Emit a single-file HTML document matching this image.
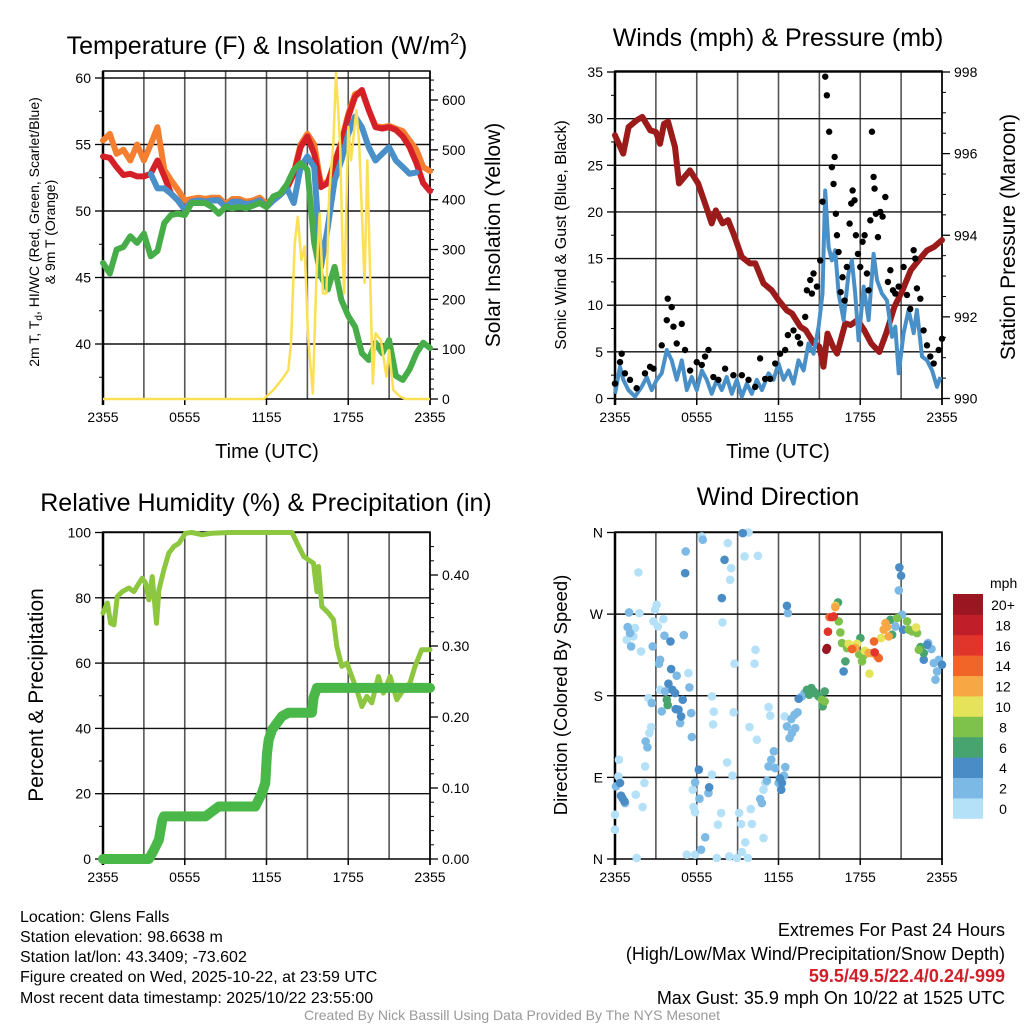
<!DOCTYPE html>
<html><head><meta charset="utf-8">
<style>
html,body{margin:0;padding:0;background:#fff;}
svg{display:block;font-family:"Liberation Sans",Arial,sans-serif;}
</style></head>
<body>
<svg id="chart" width="1024" height="1024" viewBox="0 0 1024 1024" xmlns="http://www.w3.org/2000/svg">
<rect x="0" y="0" width="1024" height="1024" fill="#fff"/>
<text x="267" y="54" font-size="25" text-anchor="middle">Temperature (F) &amp; Insolation (W/m<tspan dy="-10" font-size="16">2</tspan><tspan dy="10">)</tspan></text>
<text x="778" y="46" font-size="25" text-anchor="middle">Winds (mph) &amp; Pressure (mb)</text>
<text x="266" y="511" font-size="25" text-anchor="middle">Relative Humidity (%) &amp; Precipitation (in)</text>
<text x="778" y="505" font-size="25" text-anchor="middle">Wind Direction</text>

<text transform="translate(39,232) rotate(-90)" font-size="14" text-anchor="middle">2m T, T<tspan dy="3" font-size="10">d</tspan><tspan dy="-3">, HI/WC (Red, Green, Scarlet/Blue)</tspan></text>
<text transform="translate(55,232) rotate(-90)" font-size="14" text-anchor="middle">&amp; 9m T (Orange)</text>
<text transform="translate(500,235) rotate(-90)" font-size="21" text-anchor="middle">Solar Insolation (Yellow)</text>
<text transform="translate(566,235) rotate(-90)" font-size="16" text-anchor="middle">Sonic Wind &amp; Gust (Blue, Black)</text>
<text transform="translate(1015,237) rotate(-90)" font-size="21" text-anchor="middle">Station Pressure (Maroon)</text>
<text transform="translate(43,695) rotate(-90)" font-size="21" text-anchor="middle">Percent &amp; Precipitation</text>
<text transform="translate(567,695) rotate(-90)" font-size="18.5" text-anchor="middle">Direction (Colored By Speed)</text>
<text x="267" y="458" font-size="20" text-anchor="middle">Time (UTC)</text>
<text x="778" y="458" font-size="20" text-anchor="middle">Time (UTC)</text>

<g id="layer"></g>

<g font-size="16">
<text x="20" y="922">Location: Glens Falls</text>
<text x="20" y="942">Station elevation: 98.6638 m</text>
<text x="20" y="962">Station lat/lon: 43.3409; -73.602</text>
<text x="20" y="982">Figure created on Wed, 2025-10-22, at 23:59 UTC</text>
<text x="20" y="1003">Most recent data timestamp: 2025/10/22 23:55:00</text>
</g>
<g font-size="18" text-anchor="end">
<text x="1005" y="936">Extremes For Past 24 Hours</text>
<text x="1005" y="960">(High/Low/Max Wind/Precipitation/Snow Depth)</text>
<text x="1005" y="982" fill="#d0202a" font-weight="bold">59.5/49.5/22.4/0.24/-999</text>
<text x="1005" y="1004">Max Gust: 35.9 mph On 10/22 at 1525 UTC</text>
</g>
<text x="512" y="1020" font-size="14" fill="#999" text-anchor="middle">Created By Nick Bassill Using Data Provided By The NYS Mesonet</text>
</svg>
<script>
// ---------- Data ----------
const xTickLabels = ["2355","0555","1155","1755","2355"];
const xTickHours = [0,6,12,18,24];
// Panel 1 (half-hourly, hours 0..24)
const tempRed = [54.1,54.0,53.3,52.7,52.8,52.6,52.6,52.8,53.8,52.6,51.3,50.8,50.1,50.7,50.8,50.7,50.8,50.8,50.3,50.7,50.7,50.5,50.6,50.8,50.3,50.8,51.2,51.7,52.8,54.8,55.6,54.3,51.8,52.1,53.6,55.1,57.1,58.6,59.1,57.6,56.3,56.2,56.3,56.1,55.6,54.8,53.6,52.1,51.5];
const tempOrange = [55.3,55.8,54.3,54.6,53.8,55.0,53.8,55.0,56.3,53.1,52.3,51.6,50.8,50.9,51.0,50.9,51.0,51.0,50.5,50.9,50.9,50.7,50.8,51.0,50.5,51.0,51.3,51.8,52.9,55.0,55.8,55.0,52.0,52.2,53.7,55.2,57.3,58.8,59.0,57.6,56.4,56.3,56.4,56.2,56.0,55.3,54.6,53.3,53.0];
const heatIndexBlue = [null,null,null,null,null,null,null,52.8,51.7,51.7,51.3,50.8,50.1,50.7,50.8,50.7,50.8,50.8,50.3,50.7,50.7,50.5,50.6,50.8,50.3,50.8,51.2,51.7,50.6,53.3,54.1,53.3,45.8,48.8,52.3,53.8,55.8,57.1,56.3,54.8,53.8,54.3,54.8,53.8,53.3,52.8,52.9,null,null];
const dewGreen = [46.1,45.3,47.1,47.3,48.1,47.6,48.3,46.6,47.0,49.1,49.7,49.8,49.7,50.6,50.6,50.6,50.3,49.8,50.3,50.2,50.3,50.2,50.4,50.6,50.3,51.1,51.3,52.0,53.1,53.6,53.1,47.6,45.1,44.1,45.8,43.3,42.1,41.3,39.3,38.8,40.1,39.3,40.3,37.6,37.3,38.1,39.3,40.1,39.7];
const solarHours = [0,11.8,12.5,13.1,13.6,13.8,14.07,14.3,14.56,14.8,15.05,15.4,15.66,15.9,16.15,16.4,16.6,16.9,17.1,17.4,17.6,17.7,18.0,18.2,18.6,18.8,19.2,19.4,19.8,20.0,20.4,20.8,21.0,21.3,21.8,22.2,24];
const solarValues = [0,0,18,38,58,112,312,366,279,306,125,11,245,372,212,212,412,512,654,512,280,212,546,479,580,512,233,479,31,132,118,45,98,18,5,0,0];
// Panel 2
const windHours = [0,.37,.61,.98,1.47,1.96,2.33,2.69,3.06,3.43,3.80,4.16,4.53,4.90,5.27,5.63,6.00,6.37,6.74,7.10,7.47,7.84,8.20,8.57,8.94,9.31,9.67,10.04,10.41,10.78,11.27,11.63,12.00,12.37,12.74,13.10,13.47,13.84,14.20,14.57,14.94,15.23,15.43,15.68,15.92,16.16,16.41,16.78,17.14,17.39,17.63,17.88,18.25,18.61,18.98,19.23,19.59,19.96,20.33,20.57,20.82,21.18,21.55,21.92,22.16,22.53,22.90,23.27,23.63,23.88];
const windSpeeds = [0.5,3.4,2.0,0.9,0.2,1.25,2.3,0.9,2.0,2.7,5.2,4.1,2.0,4.1,0.9,2.3,0.9,3.0,2.0,0.5,2.0,0.9,2.3,0.5,2.0,0.2,1.6,0.5,2.0,0.9,2.7,2.0,3.75,2.0,3.0,1.6,4.1,3.0,5.9,4.8,7.7,11.25,22.3,16.25,14.8,15.9,11.25,8.4,13.4,14.8,11.25,6.25,12.0,8.4,15.5,12.7,11.25,10.5,6.6,7.7,2.7,7.0,9.5,7.0,9.5,4.5,4.1,3.0,1.25,2.3];
const gustHours = [0,0.37,0.49,0.73,1.10,1.59,2.20,2.57,2.82,3.43,3.80,3.87,4.16,4.29,4.53,4.90,5.14,5.51,6.00,6.37,6.61,6.86,7.22,7.59,8.08,8.69,9.31,9.80,10.29,10.65,11.02,11.39,11.76,12.12,12.49,12.69,13.10,13.42,13.59,13.96,14.08,14.33,14.45,14.57,14.82,15.06,15.23,15.43,15.55,15.72,15.92,16.04,16.12,16.21,16.29,16.41,16.56,16.70,16.85,17.02,17.22,17.34,17.44,17.58,17.68,17.83,18.00,18.17,18.32,18.49,18.61,18.74,18.86,18.98,19.05,19.15,19.30,19.47,19.64,19.84,20.03,20.21,20.40,20.57,20.82,21.18,21.43,21.67,21.92,22.04,22.16,22.41,22.65,22.90,23.14,23.39,23.76,24.0];
const gustSpeeds = [1.6,3.9,4.8,2.7,2.0,1.1,2.7,3.4,3.2,5.7,8.4,10.7,9.8,7.7,5.9,8.0,5.2,3.0,3.9,3.6,4.5,5.2,2.3,2.0,3.2,2.5,2.5,2.0,1.25,4.3,2.1,2.1,3.75,4.8,5.2,6.8,7.3,6.6,5.9,8.75,11.6,12.7,11.25,13.4,12.0,14.8,21.1,34.5,32.5,28.6,24.8,23.0,25.9,19.8,17.5,15.7,11.4,13.0,10.5,14.1,18.75,20.9,22.3,21.25,17.5,15.5,14.1,16.8,17.5,13.4,11.6,19.1,28.6,23.75,22.5,19.8,17.3,20.0,19.5,21.6,12.5,13.75,11.6,11.25,12.0,14.1,11.1,9.6,15.9,15.0,11.8,10.7,7.3,5.7,4.5,3.75,5.2,6.4];
const pressureHours = [0,0.6,1,1.6,2,2.6,3,3.3,3.6,3.9,4.4,4.7,5.1,5.5,6.1,6.7,7.1,7.4,7.9,8.3,8.7,9.3,9.9,10.3,10.9,11.5,12,12.6,13,13.6,14,14.6,15,15.3,15.6,16,16.3,16.9,17.3,17.8,18.3,18.8,19.4,19.9,20.5,21.1,21.7,22.3,22.9,23.4,24];
const pressureValues = [996.45,996.0,996.65,996.82,996.9,996.57,996.53,996.24,996.73,996.78,996.16,995.27,995.43,995.59,995.27,994.69,994.29,994.61,994.29,994.37,994.04,993.47,993.31,993.31,992.82,992.65,992.41,992.16,992.08,991.76,991.67,991.35,991.27,990.78,991.59,991.27,991.1,991.84,991.8,991.92,991.67,991.35,991.14,991.59,992.24,992.65,993.14,993.39,993.63,993.71,993.88];
// Panel 3
const rhHours = [0,.32,.56,.81,1.05,1.42,1.90,2.27,2.64,2.88,3.13,3.37,3.61,3.93,4.10,4.47,4.83,5.20,5.57,6.05,6.54,7.28,8.01,9.23,11.67,13.87,14.36,14.72,15.09,15.45,15.70,15.82,16.06,16.55,16.92,17.16,17.53,17.90,18.26,18.63,19.00,19.36,19.73,20.21,20.58,21.07,21.56,22.05,22.53,22.90,23.39,24.0];
const rhValues = [75.3,78.4,72.2,71.7,80.4,81.9,83.0,81.9,84.5,86.0,84.5,79.4,86.5,72.2,82.4,88.6,93.7,95.7,96.7,99.8,100,99.3,99.8,100,100,100,95.7,92.7,91.6,90.6,81.9,89.6,77.3,75.3,73.3,65.1,59.0,60.0,55.9,51.8,46.7,49.8,47.8,55.9,50.8,55.9,48.8,51.8,53.9,59.0,64.1,64.1];
const precipHours = [0,3.37,3.74,4.10,4.35,4.47,7.52,8.50,11.18,11.67,11.91,12.04,12.16,12.40,13.13,13.62,15.33,15.45,15.70,24];
const precipValues = [0,0,0.013,0.027,0.055,0.06,0.06,0.074,0.074,0.093,0.107,0.149,0.168,0.182,0.201,0.206,0.206,0.227,0.241,0.241];
// Panel 4
const dirTimes = [6.37,9.36,9.80,9.51,10.49,8.28,8.53,8.45,1.72,3.06,2.94,1.79,2.82,3.14,3.55,1.47,0.86,1.35,1.91,7.89,10.31,10.24,8.77,5.39,3.31,2.45,2.65,2.52,7.11,7.25,7.20,8.70,9.87,10.41,11.27,11.39,0.29,2.21,0.25,2.16,1.52,2.03,0,0,1.59,5.27,5.88,7.11,8.62,8.23,5.71,5.76,5.88,7.79,7.55,9.11,9.26,9.97,10.05,9.56,9.31,8.38,7.47,8.94,9.75,10.90,11.52,11.03,10.90,12.45,
5.19,6.44,1.03,0.93,1.10,1.18,3.63,5.05,2.77,3.31,3.23,4.53,5.46,3.68,2.70,3.43,5.59,4.78,5.64,2.25,2.38,0.74,0.07,6.62,6.32,6.20,6.86,5.88,11.47,11.76,11.66,10.66,10.78,11.15,11.27,12.50,12.40,12.01,12.62,13.23,12.99,12.81,13.18,13.40,12.94,13.72,13.92,12.69,23.52,23.64,23.40,23.77,22.98,23.23,20.83,21.07,20.58,
5.15,12.62,4.07,4.12,3.92,4.21,4.41,4.97,4.46,4.66,4.85,0.44,0.54,0.69,0.37,6.15,6.91,12.20,12.25,12.10,7.84,8.04,9.38,20.87,21.00,21.14,22.66,22.91,24.0,16.78,13.48,
3.80,3.87,14.09,14.41,14.58,14.94,15.24,15.39,16.91,16.37,18.01,20.34,20.21,14.26,14.70,22.42,22.66,
16.42,16.54,16.66,17.03,18.13,18.23,15.19,15.39,20.70,21.44,21.56,21.81,22.30,22.17,17.93,
18.67,17.15,17.76,18.33,19.53,22.10,16.17,
19.85,20.09,19.72,19.97,17.64,16.17,18.62,19.23,18.87,
19.01,17.40,15.75,19.36,
15.63,15.93,16.05,19.06,
15.51,15.56];
const dirDegrees = [355.6,359.3,360,333.6,334.3,348.3,320.7,307.9,316.0,280.3,274.8,271.1,262.0,256.4,264.5,254.6,241.7,245.4,228.9,260.9,230.7,215.3,215.3,205.0,186.6,177.5,145.5,138.9,179.3,162.4,148.4,161.7,145.5,131.5,167.5,158.0,109.5,102.1,91.1,83.8,70.9,57.3,48.9,32.3,1.1,4.8,4.8,93.0,91.9,106.5,76.4,57.3,51.4,50.7,37.8,50.7,38.6,55.1,38.6,18.4,7.7,2.9,1.1,1.1,1.1,23.1,102.1,83.8,76.4,157.2,
339.1,352.0,271.9,255.7,249.1,234.4,246.2,246.9,234.4,219.7,215.3,202.1,189.2,184.8,171.9,162.8,160.9,149.9,134.5,129.7,123.1,61.7,80.1,23.9,10.3,66.5,72.7,84.5,109.5,100.3,118.7,66.1,61.7,86.3,102.1,101.4,91.9,83.8,146.2,144.4,138.9,133.4,159.1,161.7,154.3,179.3,183.0,271.1,197.7,206.8,216.0,219.7,238.1,231.5,296.1,269.3,256.4,
315.2,279.2,239.9,209.4,193.3,186.6,183.0,175.6,165.3,164.6,157.2,69.8,67.2,63.6,83.8,98.5,79.0,76.4,83.8,88.9,287.7,329.9,359.3,321.5,312.3,252.8,219.7,236.2,214.2,206.8,176.7,
175.6,169.7,186.6,188.5,184.8,179.3,168.3,184.8,217.9,282.9,243.6,247.3,263.8,181.1,183.0,233.7,227.1,
262.0,249.8,238.1,232.6,217.9,224.1,175.6,173.8,265.6,262.0,252.8,250.9,230.7,249.1,225.6,
204.3,237.3,237.3,229.6,243.6,255.3,279.2,
260.1,245.4,252.8,255.7,232.6,277.8,227.1,223.4,227.1,
239.9,231.5,266.7,221.5,
250.6,266.7,267.5,227.8,
230.7,232.6];
const dirSpeeds = [].concat(Array(70).fill(1),Array(57).fill(3),Array(31).fill(5),Array(17).fill(7),Array(15).fill(9),Array(7).fill(11),Array(9).fill(13),Array(4).fill(15),Array(4).fill(17),Array(2).fill(21));
const speedBinLabels = ["0","2","4","6","8","10","12","14","16","18","20+"];
const speedBinColors = ["#b4e1f8","#7cb9e4","#4a8cc6","#48a46f","#7ec24c","#e5e35a","#f8a745","#f26529","#e1342a","#c01f29","#9a1620"];

// ---------- Helpers ----------
const NS = "http://www.w3.org/2000/svg";
const layer = document.getElementById("layer");
function mk(tag, attrs, parent){ const e=document.createElementNS(NS,tag); for(const k in attrs) e.setAttribute(k,attrs[k]); (parent||layer).appendChild(e); return e; }
function lin(d0,d1,r0,r1){ return v => r0 + (v-d0)*(r1-r0)/(d1-d0); }
function pathFrom(xs, ys, sx, sy){ let d="", pen=false; for(let i=0;i<xs.length;i++){ if(ys[i]===null||ys[i]===undefined){pen=false;continue;} d += (pen?"L":"M")+sx(xs[i]).toFixed(1)+","+sy(ys[i]).toFixed(1); pen=true; } return d; }
const halfHours = tempRed.map((_,i)=>i*0.5);

function frame(name, L, T, R, B, sx, hGrid, sy){
  const g = mk("g",{});
  
  
  for(let h=3; h<24; h+=3) mk("line",{x1:sx(h),x2:sx(h),y1:T,y2:B,stroke:"#555","stroke-width":1.6},g);
  hGrid.forEach(v=>mk("line",{x1:L,x2:R,y1:sy(v),y2:sy(v),stroke:"#111","stroke-width":1.4},g));
  mk("rect",{x:L,y:T,width:R-L,height:B-T,fill:"none",stroke:"#000","stroke-width":1.5},g);
  mk("line",{x1:L,x2:L,y1:T,y2:B+6,stroke:"#000","stroke-width":2.5},g);
  mk("line",{x1:R,x2:R,y1:T,y2:B+6,stroke:"#000","stroke-width":1.5},g);
  xTickHours.forEach((h,i)=>{
    mk("line",{x1:sx(h),x2:sx(h),y1:B,y2:B+6,stroke:"#000","stroke-width":1.5},g);
    const t = mk("text",{x:sx(h),y:B+23,"font-size":14,"text-anchor":"middle"},g);
    t.textContent = xTickLabels[i];
    
    
  });
  return g;
}
function yTicks(name, x, side, vals, labels, sy, minor){
  const g = mk("g",{});
  
  
  const dir = side==="left"?-1:1;
  (minor||[]).forEach(v=>mk("line",{x1:x,x2:x+dir*4,y1:sy(v),y2:sy(v),stroke:"#000","stroke-width":1},g));
  vals.forEach((v,i)=>{
    mk("line",{x1:x,x2:x+dir*8,y1:sy(v),y2:sy(v),stroke:"#000","stroke-width":1.3},g);
    const t = mk("text",{x:x+dir*12,y:sy(v)+5,"font-size":14,"text-anchor":side==="left"?"end":"start"},g);
    t.textContent = labels[i];
  });
}

// ---------- Panel 1 ----------
{
  const L=103,R=430,T=71,B=399;
  const sx = lin(0,24,L,R), sy = lin(50,55,211,144.5), sS = lin(0,600,399,100);
  frame("temp-panel",L,T,R,B,sx,[40,45,50,55,60],sy);
  yTicks("temp-y-axis",L,"left",[40,45,50,55,60],["40","45","50","55","60"],sy,[37.5,42.5,47.5,52.5,57.5]);
  yTicks("solar-y-axis",R,"right",[0,100,200,300,400,500,600],["0","100","200","300","400","500","600"],sS,[20,40,60,80,120,140,160,180,220,240,260,280,320,340,360,380,420,440,460,480,520,540,560,580,620,640]);
  const series = [["temp-9m-line",tempOrange,"#f47f30"],["temp-2m-line",tempRed,"#d62027"],["heat-index-line",heatIndexBlue,"#4a90c8"],["dewpoint-line",dewGreen,"#46ad48"]];
  series.forEach(s=>{
    const p = mk("path",{d:pathFrom(halfHours,s[1],sx,sy),fill:"none",stroke:s[2],"stroke-width":6,"stroke-linejoin":"round","stroke-linecap":"round"});
    
    
  });
  const sp = mk("path",{d:pathFrom(solarHours,solarValues,sx,sS),fill:"none",stroke:"#fbe055","stroke-width":2.5,"stroke-linejoin":"round"});
  
  
}
// ---------- Panel 2 ----------
{
  const L=615,R=942,T=71,B=399;
  const sx = lin(0,24,L,R), sy = lin(0,35,398.5,72), sP = lin(990,998,398.5,72);
  frame("wind-panel",L,T,R,B,sx,[5,10,15,20,25,30,35],sy);
  yTicks("wind-y-axis",L,"left",[0,5,10,15,20,25,30,35],["0","5","10","15","20","25","30","35"],sy,[2.5,7.5,12.5,17.5,22.5,27.5,32.5]);
  yTicks("pressure-y-axis",R,"right",[990,992,994,996,998],["990","992","994","996","998"],sP,[990.5,991,991.5,992.5,993,993.5,994.5,995,995.5,996.5,997,997.5]);
  const pp = mk("path",{d:pathFrom(pressureHours,pressureValues,sx,sP),fill:"none",stroke:"#9b1b1b","stroke-width":6,"stroke-linejoin":"round","stroke-linecap":"round"});
  
  
  const wp = mk("path",{d:pathFrom(windHours,windSpeeds,sx,sy),fill:"none",stroke:"#4a90c8","stroke-width":4,"stroke-linejoin":"round"});
  
  
  gustHours.forEach((h,i)=>{
    const c = mk("circle",{cx:sx(h),cy:sy(gustSpeeds[i]),r:3.2,fill:"#000"});
    
    
  });
}
// ---------- Panel 3 ----------
{
  const L=103,R=430,T=532,B=859;
  const sx = lin(0,24,L,R), sy = lin(0,100,859,532.5), sQ = lin(0,0.1,859,788);
  frame("rh-panel",L,T,R,B,sx,[20,40,60,80,100],sy);
  yTicks("rh-y-axis",L,"left",[0,20,40,60,80,100],["0","20","40","60","80","100"],sy,[10,30,50,70,90]);
  yTicks("precip-y-axis",R,"right",[0,0.1,0.2,0.3,0.4],["0.00","0.10","0.20","0.30","0.40"],sQ,[0.02,0.04,0.06,0.08,0.12,0.14,0.16,0.18,0.22,0.24,0.26,0.28,0.32,0.34,0.36,0.38,0.42,0.44]);
  const rp = mk("path",{d:pathFrom(rhHours,rhValues,sx,sy),fill:"none",stroke:"#8dc63f","stroke-width":5,"stroke-linejoin":"round","stroke-linecap":"round"});
  
  
  const qp = mk("path",{d:pathFrom(precipHours,precipValues,sx,sQ),fill:"none",stroke:"#4ab848","stroke-width":10,"stroke-linejoin":"round","stroke-linecap":"round"});
  
  
}
// ---------- Panel 4 ----------
{
  const L=615,R=942,T=532,B=859;
  const sx = lin(0,24,L,R), sy = lin(0,360,859,532.5);
  frame("direction-panel",L,T,R,B,sx,[90,180,270,360],sy);
  yTicks("direction-y-axis",L,"left",[0,90,180,270,360],["N","E","S","W","N"],sy,[]);
  dirTimes.forEach((h,i)=>{
    const bin = Math.min(10,Math.floor(dirSpeeds[i]/2));
    const c = mk("circle",{cx:sx(h),cy:sy(dirDegrees[i]),r:4.3,fill:speedBinColors[bin]});
    
    
  });
  const cb = mk("g",{});
  
  
  const cTop=594, cH=20.4;
  const lab = mk("text",{x:990,y:588,"font-size":14},cb);
  lab.textContent = "mph";
  speedBinColors.forEach((col,i)=>{
    const yy = cTop + (10-i)*cH;
    mk("rect",{x:953,y:yy,width:30,height:cH+0.4,fill:col},cb);
    const t = mk("text",{x:1003,y:yy+16,"font-size":14,"text-anchor":"middle"},cb);
    t.textContent = speedBinLabels[i];
    
    
  });
}
</script>
</body></html>
